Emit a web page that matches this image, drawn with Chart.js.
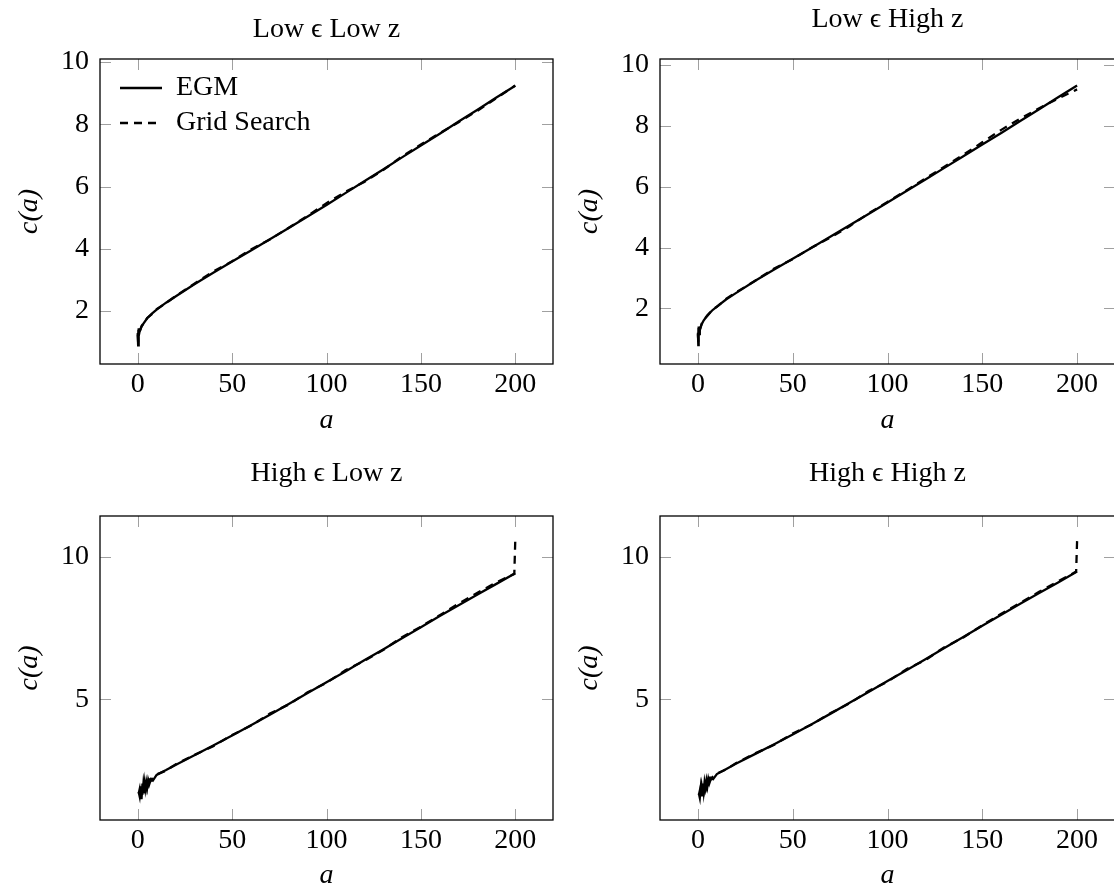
<!DOCTYPE html>
<html>
<head>
<meta charset="utf-8">
<script src="https://cdn.jsdelivr.net/npm/chart.js@4.4.0/dist/chart.umd.min.js"></script>
<style>
    html, body { margin: 0; padding: 0; background: #fff; overflow: hidden; }
    body { width: 1114px; height: 888px; position: relative; }
    canvas { position: absolute; }
</style>
</head>
<body>
<canvas id="lowLow" width="557" height="444" style="left:0px;top:0px"></canvas>
<canvas id="lowHigh" width="560" height="444" style="left:557px;top:0px"></canvas>
<canvas id="highLow" width="557" height="450" style="left:0px;top:444px"></canvas>
<canvas id="highHigh" width="560" height="450" style="left:557px;top:444px"></canvas>
<script>
// asset grid and tick labels
const xTicks = [0, 50, 100, 150, 200];
const yTicksLow = [2, 4, 6, 8, 10];
const yTicksHigh = [5, 10];

const aTop = [0, 0.2, 0.4, 0.6, 1, 2, 3, 5, 7.5, 10, 15, 20, 30, 40, 50, 60, 70, 80, 90, 100, 110, 120, 130, 140, 150, 160, 170, 180, 190, 200];
const aBottom = [0.5, 1, 1.5, 2, 2.5, 3, 3.5, 4, 4.5, 5, 5.5, 6, 7, 8, 10, 15, 20, 30, 40, 50, 60, 70, 80, 90, 100, 110, 120, 130, 140, 150, 160, 170, 180, 190, 200];
const aBottomGS = [0.5, 1, 1.5, 2, 2.5, 3, 3.5, 4, 4.5, 5, 5.5, 6, 7, 8, 10, 15, 20, 30, 40, 50, 60, 70, 80, 90, 100, 110, 120, 130, 140, 150, 160, 170, 180, 190, 199.5, 200];

// Low eps, Low z
const egmLowLow = [1.3, 0.9, 1.45, 1.2, 1.35, 1.5, 1.6, 1.77, 1.92, 2.05, 2.27, 2.47, 2.86, 3.23, 3.59, 3.95, 4.31, 4.67, 5.04, 5.41, 5.79, 6.17, 6.55, 6.94, 7.32, 7.70, 8.09, 8.47, 8.86, 9.24];
const gsLowLow = [1.25, 1.0, 1.4, 1.25, 1.33, 1.52, 1.6, 1.78, 1.9, 2.06, 2.26, 2.48, 2.88, 3.27, 3.6, 3.98, 4.3, 4.68, 5.06, 5.47, 5.83, 6.15, 6.53, 6.97, 7.35, 7.72, 8.07, 8.44, 8.84, 9.25];
// Low eps, High z
const egmLowHigh = [1.2, 0.79, 1.4, 1.15, 1.3, 1.48, 1.6, 1.77, 1.93, 2.06, 2.3, 2.5, 2.9, 3.27, 3.63, 3.99, 4.36, 4.73, 5.1, 5.48, 5.86, 6.24, 6.62, 7.0, 7.39, 7.77, 8.16, 8.55, 8.94, 9.33];
const gsLowHigh = [1.15, 0.9, 1.35, 1.2, 1.28, 1.5, 1.62, 1.76, 1.95, 2.05, 2.32, 2.52, 2.9, 3.3, 3.62, 4.0, 4.33, 4.7, 5.12, 5.5, 5.88, 6.27, 6.66, 7.05, 7.46, 7.87, 8.24, 8.58, 8.9, 9.2];
// High eps, Low z
const egmHighLow = [1.75, 1.6, 1.95, 1.5, 2.05, 1.7, 2.1, 1.85, 2.1, 1.9, 2.15, 2.0, 2.2, 2.15, 2.35, 2.52, 2.7, 3.04, 3.38, 3.73, 4.09, 4.46, 4.84, 5.22, 5.6, 5.98, 6.37, 6.75, 7.14, 7.53, 7.92, 8.3, 8.68, 9.05, 9.42];
const gsHighLow = [1.7, 1.85, 1.55, 2.0, 1.65, 2.05, 1.8, 2.15, 1.9, 2.1, 2.0, 2.2, 2.15, 2.25, 2.37, 2.5, 2.72, 3.05, 3.36, 3.75, 4.08, 4.5, 4.82, 5.25, 5.58, 6.02, 6.35, 6.73, 7.18, 7.55, 7.95, 8.36, 8.74, 9.1, 9.4, 10.55];
// High eps, High z
const egmHighHigh = [1.7, 1.55, 1.9, 1.6, 2.05, 1.75, 2.1, 1.9, 2.15, 1.95, 2.2, 2.05, 2.25, 2.2, 2.38, 2.56, 2.74, 3.08, 3.42, 3.77, 4.13, 4.5, 4.88, 5.26, 5.64, 6.02, 6.41, 6.8, 7.19, 7.58, 7.97, 8.35, 8.73, 9.1, 9.48];
const gsHighHigh = [1.65, 1.8, 1.6, 1.95, 1.7, 2.05, 1.85, 2.15, 1.95, 2.15, 2.05, 2.25, 2.2, 2.3, 2.4, 2.55, 2.76, 3.1, 3.4, 3.8, 4.12, 4.52, 4.86, 5.29, 5.62, 6.06, 6.38, 6.83, 7.17, 7.6, 8.0, 8.38, 8.77, 9.14, 9.48, 10.55];

const FONT = "'Liberation Serif', 'Times New Roman', serif";

const pts = (xs, ys) => xs.map((x, i) => ({x: x, y: ys[i]}));

// pgfplots-style frame with inward tick marks on all four sides
const frameTicks = {
    id: 'frameTicks',
    beforeDatasetsDraw(chart) {
        const {ctx, chartArea: a, scales: {x, y}} = chart;
        ctx.save();
        ctx.strokeStyle = '#a0a0a0';
        ctx.lineWidth = 1;
        ctx.beginPath();
        x.ticks.forEach(t => {
            const px = Math.round(x.getPixelForValue(t.value)) + 0.5;
            ctx.moveTo(px, a.bottom); ctx.lineTo(px, a.bottom - 11);
            ctx.moveTo(px, a.top); ctx.lineTo(px, a.top + 11);
        });
        y.ticks.forEach(t => {
            const py = Math.round(y.getPixelForValue(t.value)) + 0.5;
            ctx.moveTo(a.left, py); ctx.lineTo(a.left + 11, py);
            ctx.moveTo(a.right, py); ctx.lineTo(a.right - 11, py);
        });
        ctx.stroke();
        ctx.strokeStyle = '#000';
        ctx.lineWidth = 1.3;
        ctx.strokeRect(a.left, a.top, a.right - a.left, a.bottom - a.top);
        ctx.restore();
    }
};

// put the legend inside the plot, near the upper left corner
const legendInside = {
    id: 'legendInside',
    afterLayout(chart) {
        if (chart.legend && chart.options.plugins.legend.display) {
            chart.legend.left = chart.chartArea.left + 13;
            chart.legend.top = chart.chartArea.top + 8;
        }
    }
};

// legend samples keep each dataset's dash and width
function lineLabels(chart) {
    const items = Chart.defaults.plugins.legend.labels.generateLabels(chart);
    return items.map(item => {
        const ds = chart.data.datasets[item.datasetIndex];
        item.lineDash = ds.borderDash || [];
        item.lineWidth = ds.borderWidth;
        item.pointStyle = 'line';
        return item;
    });
}

function renderPanel(id, title, egm, gs, yMin, yMax, yTicks, box) {
    new Chart(document.getElementById(id), {
        type: 'line',
        data: {
            datasets: [{
                label: 'EGM',
                data: egm,
                borderColor: '#000',
                backgroundColor: '#000',
                borderWidth: 2.3,
                pointRadius: 0,
                tension: 0
            }, {
                label: 'Grid Search',
                data: gs,
                borderColor: '#000',
                backgroundColor: '#000',
                borderWidth: 2.3,
                borderDash: [8, 6],
                pointRadius: 0,
                tension: 0
            }]
        },
        options: {
            responsive: false,
            animation: false,
            events: [],
            layout: { padding: { left: 0, top: 0, right: box.padRight, bottom: 0 } },
            plugins: {
                title: {
                    display: true,
                    fullSize: false,
                    text: title,
                    color: '#000',
                    font: { family: FONT, size: 28, weight: 'normal', lineHeight: 1.2 },
                    padding: { top: box.titleTop, bottom: box.titleBottom }
                },
                legend: {
                    display: box.legend,
                    position: 'chartArea',
                    align: 'start',
                    labels: {
                        usePointStyle: true,
                        pointStyleWidth: 42,
                        padding: 7,
                        color: '#000',
                        font: { family: FONT, size: 28 },
                        generateLabels: lineLabels
                    }
                },
                tooltip: { enabled: false }
            },
            scales: {
                x: {
                    type: 'linear',
                    min: -20,
                    max: 220,
                    afterBuildTicks: s => { s.ticks = xTicks.map(v => ({value: v})); },
                    afterFit: s => { s.height = box.xAxisH; },
                    grid: { display: false, drawTicks: false },
                    border: { display: false },
                    ticks: { color: '#000', padding: 4, maxRotation: 0, font: { family: FONT, size: 28 } },
                    title: {
                        display: true,
                        text: 'a',
                        color: '#000',
                        font: { family: FONT, size: 28, style: 'italic', lineHeight: 1.2 },
                        padding: { top: 0, bottom: box.xTitleBottom }
                    }
                },
                y: {
                    type: 'linear',
                    min: yMin,
                    max: yMax,
                    afterBuildTicks: s => { s.ticks = yTicks.map(v => ({value: v})); },
                    afterFit: s => { s.width = box.yAxisW; },
                    grid: { display: false, drawTicks: false },
                    border: { display: false },
                    ticks: { color: '#000', padding: 11, font: { family: FONT, size: 28 } },
                    title: {
                        display: true,
                        text: 'c(a)',
                        color: '#000',
                        font: { family: FONT, size: 28, style: 'italic', lineHeight: 1.2 },
                        padding: { top: box.yTitleTop, bottom: 0 }
                    }
                }
            }
        },
        plugins: [frameTicks, legendInside]
    });
}

renderPanel('lowLow', 'Low ϵ Low z', pts(aTop, egmLowLow), pts(aTop, gsLowLow), 0.3, 10.1, yTicksLow,
    { padRight: 4, titleTop: 13.2, titleBottom: 12.2, xAxisH: 80, xTitleBottom: 7, yAxisW: 100, yTitleTop: 13, legend: true });
renderPanel('lowHigh', 'Low ϵ High z', pts(aTop, egmLowHigh), pts(aTop, gsLowHigh), 0.17, 10.2, yTicksLow,
    { padRight: 2, titleTop: 3.2, titleBottom: 22.2, xAxisH: 80, xTitleBottom: 7, yAxisW: 103, yTitleTop: 16, legend: false });
renderPanel('highLow', 'High ϵ Low z', pts(aBottom, egmHighLow), pts(aBottomGS, gsHighLow), 0.77, 11.43, yTicksHigh,
    { padRight: 4, titleTop: 13.2, titleBottom: 25.2, xAxisH: 74, xTitleBottom: 2, yAxisW: 100, yTitleTop: 13, legend: false });
renderPanel('highHigh', 'High ϵ High z', pts(aBottom, egmHighHigh), pts(aBottomGS, gsHighHigh), 0.77, 11.43, yTicksHigh,
    { padRight: 2, titleTop: 13.2, titleBottom: 25.2, xAxisH: 74, xTitleBottom: 2, yAxisW: 103, yTitleTop: 16, legend: false });
</script>
</body>
</html>
